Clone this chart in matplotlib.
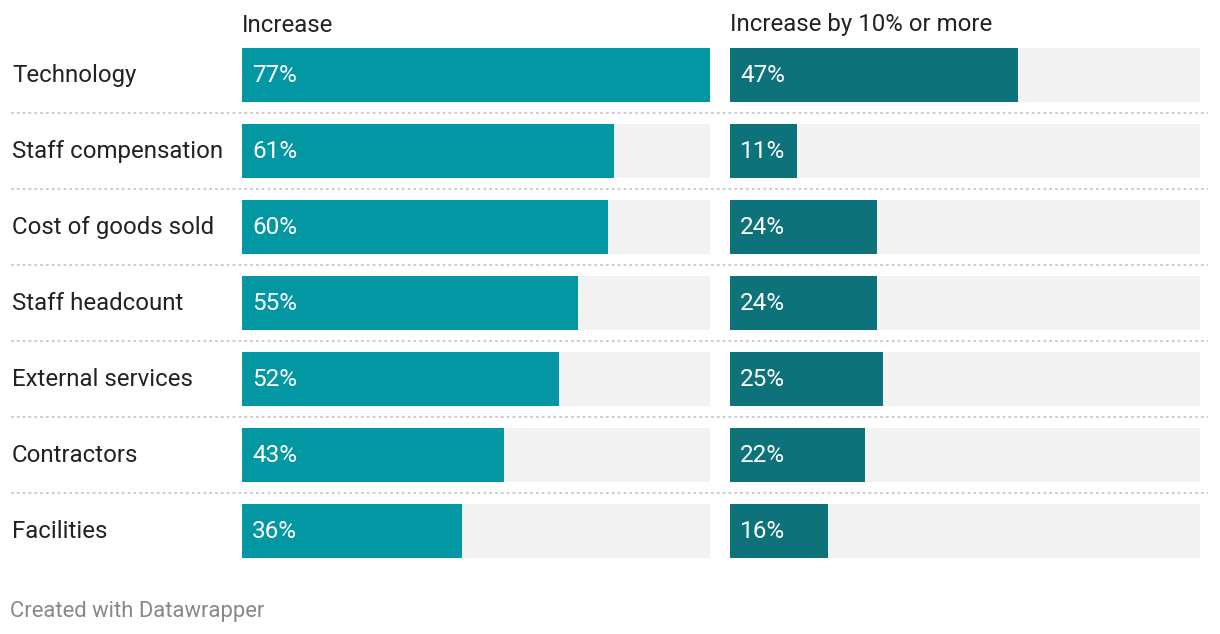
import matplotlib
matplotlib.use("Agg")
import matplotlib.pyplot as plt
from matplotlib.transforms import blended_transform_factory, offset_copy

categories = ["Technology", "Staff compensation", "Cost of goods sold", "Staff headcount",
              "External services", "Contractors", "Facilities"]
increase = [77, 61, 60, 55, 52, 43, 36]
increase_10 = [47, 11, 24, 24, 25, 22, 16]
col_titles = ["Increase", "Increase by 10% or more"]
footer = "Created with Datawrapper"

W, H = 1220, 634
plt.rcParams['font.family'] = ['Roboto', 'DejaVu Sans']
fig = plt.figure(figsize=(W / 100, H / 100), dpi=100)
fig.patch.set_facecolor("white")

def fx(px):
    return px / W

def fy(py):
    return 1 - py / H

XMAX = 76.7
top, bottom = 37, 569
panels = [(242, 710, increase, "#0397a3"), (730, 1200, increase_10, "#0e727a")]
n = len(categories)
axes = []
for (x0, x1, vals, color), title in zip(panels, col_titles):
    ax = fig.add_axes([fx(x0), fy(bottom), fx(x1 - x0), (bottom - top) / H])
    ax.set_xlim(0, XMAX)
    ax.set_ylim(n - 0.5, -0.5)
    ax.axis("off")
    ys = list(range(n))
    ax.barh(ys, [XMAX] * n, height=54 / 76, color="#f2f2f2", linewidth=0)
    ax.barh(ys, vals, height=54 / 76, color=color, linewidth=0, clip_on=True)
    tr = offset_copy(ax.transData, fig=fig, x=10, y=-1, units="dots")
    for y, v in zip(ys, vals):
        ax.text(0, y, f"{v}%", transform=tr, color="white", fontsize=17.5,
                va="center", ha="left")
    fig.text(fx(x0), fy(25), title, fontsize=17.3, color="#222222", va="center", ha="left")
    axes.append(ax)

ax = axes[0]
btr = offset_copy(blended_transform_factory(fig.transFigure, ax.transData), fig=fig,
                  x=0, y=-0.5, units="dots")
for i, c in enumerate(categories):
    ax.text(fx(12), i, c, transform=btr, fontsize=17.3, color="#222222", va="center", ha="left")
ltr = blended_transform_factory(fig.transFigure, ax.transData)
for i in range(n - 1):
    ax.plot([fx(11), fx(1208)], [i + 0.5, i + 0.5], transform=ltr, clip_on=False,
            color="#cccccc", lw=1.4, linestyle=(0, (1.4, 1.6)))

fig.text(fx(10), fy(611), footer, fontsize=15.8, color="#888888", va="center", ha="left")

fig.savefig("out.png", dpi=100, facecolor="white")
